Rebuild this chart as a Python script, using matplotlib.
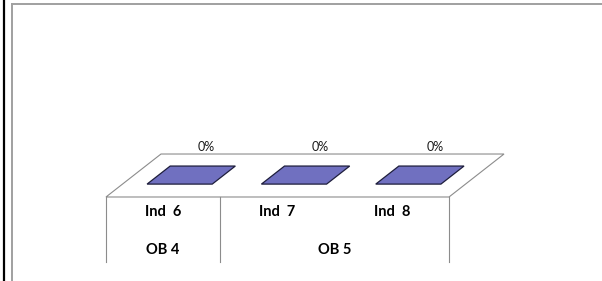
import matplotlib
matplotlib.use("Agg")
import matplotlib.pyplot as plt
from matplotlib.patches import Polygon
from matplotlib.lines import Line2D

# ---------------------------------------------------------------------
# DATA
# ---------------------------------------------------------------------
categories = ["Ind  6", "Ind  7", "Ind  8"]
values = [0, 0, 0]  # percent
groups = ["OB 4", "OB 5"]
group_sizes = [1, 2]

# ---------------------------------------------------------------------
# STYLE
# ---------------------------------------------------------------------
BAR_FACE = "#7070c0"
BAR_EDGE = "#1e1e3c"
FLOOR_EDGE = "#8c8c8c"
FRAME_EDGE = "#a0a0a0"
FONT = "Lato"

# oblique depth of the floor in data units (x: categories, y: percent)
DEPTH_X = 0.481
DEPTH_Y = 30.7
BAR_X0, BAR_X1 = 0.215, 0.785   # bar span inside a category
BAR_Z0, BAR_Z1 = 0.30, 0.72     # bar span in depth


def proj(x, y, z):
    return (x + z * DEPTH_X, y + z * DEPTH_Y)


fig = plt.figure(figsize=(6.02, 2.81), dpi=100)
ax = fig.add_axes([0, 0, 1, 1])
ax.set_xlim(-0.927, 4.338)
ax.set_ylim(-60, 140.7)
ax.axis("off")

n = len(categories)

# floor
floor = [proj(0, 0, 0), proj(n, 0, 0), proj(n, 0, 1), proj(0, 0, 1)]
ax.add_patch(Polygon(floor, closed=True, facecolor="white",
                     edgecolor=FLOOR_EDGE, linewidth=0.8, zorder=1))

# bars
for i, v in enumerate(values):
    x0, x1 = i + BAR_X0, i + BAR_X1
    if v > 0:
        front = [proj(x0, 0, BAR_Z0), proj(x1, 0, BAR_Z0),
                 proj(x1, v, BAR_Z0), proj(x0, v, BAR_Z0)]
        side = [proj(x1, 0, BAR_Z0), proj(x1, 0, BAR_Z1),
                proj(x1, v, BAR_Z1), proj(x1, v, BAR_Z0)]
        ax.add_patch(Polygon(front, facecolor=BAR_FACE, edgecolor=BAR_EDGE,
                             linewidth=0.8, zorder=3))
        ax.add_patch(Polygon(side, facecolor="#5a5aa0", edgecolor=BAR_EDGE,
                             linewidth=0.8, zorder=3))
    top = [proj(x0, v, BAR_Z0), proj(x1, v, BAR_Z0),
           proj(x1, v, BAR_Z1), proj(x0, v, BAR_Z1)]
    ax.add_patch(Polygon(top, closed=True, facecolor=BAR_FACE,
                         edgecolor=BAR_EDGE, linewidth=0.9, zorder=4))
    lx, ly = proj(i + 0.5, v, BAR_Z1)
    ax.text(lx + 0.03, ly + 13.5, f"{v:.0f}%", ha="center", va="center",
            fontsize=9, family=FONT, color="#1a1a1a", zorder=5)

# category table below the floor
table_bottom = -46.5
edges = [0]
for s in group_sizes:
    edges.append(edges[-1] + s)
for e in edges:
    ax.plot([e, e], [0, table_bottom], color=FLOOR_EDGE, linewidth=0.8, zorder=2)

for i, name in enumerate(categories):
    ax.text(i + 0.5, -10.7, name, ha="center", va="center", fontsize=10.5,
            fontweight="bold", family=FONT, color="black")

for g, name in enumerate(groups):
    mid = (edges[g] + edges[g + 1]) / 2
    ax.text(mid, -37.9, name, ha="center", va="center", fontsize=10.5,
            fontweight="bold", family=FONT, color="black")

# chart frame
W, H = 602, 281
fig.add_artist(Line2D([12 / W, 1], [1 - 4 / H, 1 - 4 / H], color=FRAME_EDGE,
                      linewidth=1.4, transform=fig.transFigure))
fig.add_artist(Line2D([12 / W, 12 / W], [0, 1 - 4 / H], color=FRAME_EDGE,
                      linewidth=1.4, transform=fig.transFigure))
fig.add_artist(Line2D([3.8 / W, 3.8 / W], [0, 1], color="black",
                      linewidth=1.6, transform=fig.transFigure))

fig.savefig("out.png", dpi=100)
